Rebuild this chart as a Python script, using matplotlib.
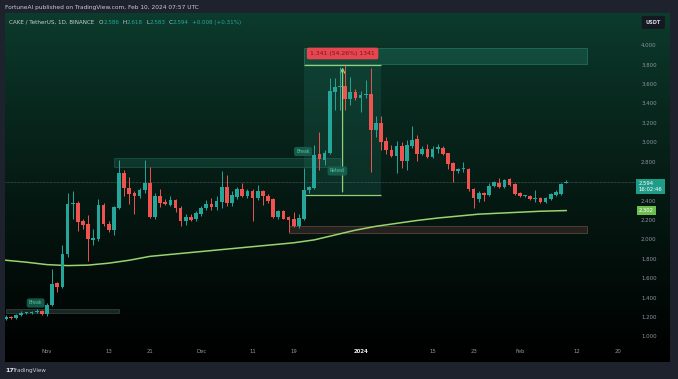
import numpy as np
import pandas as pd
import matplotlib
matplotlib.use("Agg")
from matplotlib import pyplot as plt, dates as mdates, transforms
from matplotlib.patches import Rectangle
from matplotlib.text import Annotation

dates = pd.date_range("2023-10-24", "2024-02-10", freq="D")

opens = [1.19, 1.21, 1.20, 1.23, 1.25, 1.25, 1.26, 1.27,
         1.24, 1.33, 1.56, 1.51, 1.85, 2.37, 2.38, 2.19, 2.16, 2.00,
         2.01, 2.36, 2.16, 2.10, 2.33, 2.69, 2.53, 2.48, 2.45, 2.51,
         2.59, 2.24, 2.45, 2.39, 2.36, 2.41, 2.33, 2.19, 2.24, 2.21,
         2.27, 2.33, 2.37, 2.34, 2.39, 2.54, 2.38, 2.44, 2.52, 2.45,
         2.50, 2.43, 2.50, 2.45, 2.42, 2.24, 2.30, 2.24, 2.22, 2.14,
         2.22, 2.51, 2.53, 2.88, 2.82, 2.90, 3.52, 3.57, 3.58, 3.45,
         3.52,
         3.46, 3.49, 3.50, 3.13, 3.20, 3.02, 2.93, 2.86, 2.97, 2.81,
         2.97, 3.04, 2.88, 2.94, 2.85, 2.94, 2.95, 2.89, 2.79, 2.71,
         2.73, 2.73, 2.52, 2.42, 2.48, 2.46, 2.55, 2.59, 2.54, 2.63,
         2.58,
         2.48, 2.45, 2.45, 2.42, 2.43, 2.39, 2.42, 2.46, 2.47, 2.586]
highs = [1.23, 1.22, 1.24, 1.27, 1.26, 1.27, 1.29, 1.28,
         1.35, 1.70, 1.57, 1.95, 2.48, 2.50, 2.40, 2.22, 2.26, 2.11,
         2.42, 2.38, 2.19, 2.35, 2.82, 2.72, 2.65, 2.50, 2.53, 2.82,
         2.75, 2.48, 2.52, 2.42, 2.45, 2.42, 2.35, 2.27, 2.27, 2.30,
         2.35, 2.41, 2.43, 2.45, 2.71, 2.67, 2.50, 2.54, 2.59, 2.52,
         2.52, 2.57, 2.51, 2.47, 2.43, 2.31, 2.31, 2.25, 2.29, 2.27,
         2.74, 2.56, 2.98, 3.11, 2.93, 3.67, 3.67, 3.78, 3.806, 3.68,
         3.55,
         3.53, 3.65, 3.77, 3.28, 3.28, 3.06, 2.98, 3.02, 3.01, 3.03,
         3.17, 3.08, 2.97, 2.99, 2.97, 2.99, 2.97, 2.90, 2.80, 2.74,
         2.80, 2.74, 2.53, 2.50, 2.49, 2.59, 2.61, 2.64, 2.63, 2.64,
         2.59,
         2.49, 2.46, 2.46, 2.51, 2.44, 2.44, 2.48, 2.51, 2.59, 2.618]
lows = [1.17, 1.19, 1.19, 1.22, 1.24, 1.24, 1.25, 1.23,
        1.22, 1.32, 1.46, 1.50, 1.82, 2.21, 2.09, 2.11, 1.78, 1.95,
        1.99, 2.14, 2.08, 2.05, 2.32, 2.45, 2.37, 2.27, 2.43, 2.48,
        2.23, 2.22, 2.34, 2.36, 2.35, 2.29, 2.14, 2.15, 2.19, 2.19,
        2.25, 2.31, 2.31, 2.31, 2.33, 2.35, 2.35, 2.42, 2.44, 2.43,
        2.19, 2.41, 2.36, 2.38, 2.23, 2.22, 2.21, 2.08, 2.13, 2.12,
        2.20, 2.48, 2.52, 2.72, 2.77, 2.88, 3.34, 3.34, 3.34, 3.39,
        3.44,
        3.32, 3.46, 2.70, 3.06, 2.93, 2.88, 2.85, 2.69, 2.74, 2.72,
        2.95, 2.81, 2.87, 2.84, 2.84, 2.90, 2.87, 2.73, 2.60, 2.69,
        2.70, 2.50, 2.33, 2.39, 2.40, 2.45, 2.54, 2.53, 2.53, 2.56,
        2.46,
        2.44, 2.44, 2.41, 2.39, 2.38, 2.38, 2.41, 2.45, 2.46, 2.583]
closes = [1.21, 1.20, 1.23, 1.25, 1.255, 1.26, 1.27, 1.24,
          1.33, 1.55, 1.51, 1.85, 2.37, 2.38, 2.18, 2.15, 2.01, 2.02,
          2.36, 2.16, 2.10, 2.34, 2.69, 2.53, 2.47, 2.45, 2.51, 2.59,
          2.24, 2.45, 2.38, 2.37, 2.41, 2.33, 2.19, 2.24, 2.20, 2.28,
          2.33, 2.37, 2.34, 2.40, 2.54, 2.38, 2.46, 2.52, 2.45, 2.50,
          2.43, 2.50, 2.45, 2.40, 2.24, 2.30, 2.22, 2.20, 2.14, 2.23,
          2.51, 2.54, 2.87, 2.83, 2.90, 3.53, 3.57, 3.58, 3.45, 3.52,
          3.46,
          3.49, 3.50, 3.13, 3.20, 3.01, 2.93, 2.86, 2.97, 2.81, 2.98,
          3.03, 2.88, 2.94, 2.85, 2.94, 2.96, 2.88, 2.78, 2.71, 2.73,
          2.73, 2.52, 2.43, 2.48, 2.46, 2.56, 2.60, 2.54, 2.62, 2.57,
          2.47,
          2.45, 2.45, 2.42, 2.42, 2.39, 2.43, 2.47, 2.49, 2.58, 2.594]

ma_dates = ["2023-10-24", "2023-10-28", "2023-11-01", "2023-11-05", "2023-11-09",
            "2023-11-13", "2023-11-17", "2023-11-21", "2023-11-25", "2023-12-01",
            "2023-12-07", "2023-12-13", "2023-12-19", "2023-12-23", "2023-12-27",
            "2023-12-31", "2024-01-04", "2024-01-08", "2024-01-12", "2024-01-16",
            "2024-01-20", "2024-01-24", "2024-01-28", "2024-02-01", "2024-02-05",
            "2024-02-10"]
ma_values = [1.79, 1.77, 1.745, 1.735, 1.74, 1.76, 1.79, 1.83, 1.85, 1.88,
             1.91, 1.94, 1.97, 2.00, 2.05, 2.10, 2.14, 2.17, 2.20, 2.225,
             2.245, 2.265, 2.275, 2.285, 2.295, 2.302]

price_ticks = [4.0, 3.8, 3.6, 3.4, 3.2, 3.0, 2.8, 2.4, 2.2, 2.0, 1.8, 1.6, 1.4, 1.2, 1.0]
tick_dates = ["2023-11-01", "2023-11-13", "2023-11-21", "2023-12-01", "2023-12-11",
              "2023-12-19", "2024-01-01", "2024-01-15", "2024-01-23", "2024-02-01",
              "2024-02-12", "2024-02-20"]
tick_labels = ["Nov", "13", "21", "Dec", "11", "19", "2024", "15", "23", "Feb", "12", "20"]

# zones: (start, end, low, high)
zone_supply = ("2023-12-21", "2024-02-14", 3.81, 3.98)
zone_break_hi = ("2023-11-14", "2023-12-28", 2.748, 2.843)
zone_break_lo = ("2023-10-24", "2023-11-15", 1.242, 1.283)
zone_demand = ("2023-12-18", "2024-02-14", 2.071, 2.143)
measure = ("2023-12-21", "2024-01-05", 2.465, 3.806)

W, H = 678, 379
up, down = "#26a69a", "#ef5350"
fig = plt.figure(figsize=(W / 100, H / 100), dpi=100, facecolor="#1e222d")
rect = [5 / W, 17 / H, 665 / W, 349 / H]

bg = fig.add_axes(rect, zorder=0)
t = np.linspace(0, 1, 256) ** 0.85
top = np.array([12, 60, 45]) / 255
grad = (top[None, :] * (1 - t[:, None]))[:, None, :]
bg.imshow(grad, aspect="auto", extent=[0, 1, 0, 1])
bg.axis("off")

ax = fig.add_axes(rect, zorder=1)
ax.patch.set_alpha(0)
ax.axis("off")
x = mdates.date2num(dates)
x0 = mdates.date2num(pd.Timestamp("2023-11-01"))
ax.set_xlim(x0 - 8.17, x0 + 121.2)
ax.set_ylim(0.742, 4.337)
dn = lambda s: mdates.date2num(pd.Timestamp(s))


def zone(z, fc, ec, alpha):
    a, b, lo, hi = z
    ax.add_patch(Rectangle((dn(a), lo), dn(b) - dn(a), hi - lo, facecolor=fc,
                           edgecolor=ec, alpha=alpha, lw=0.6, zorder=1))


zone(zone_supply, "#1f6b57", "#3aa58a", 0.45)
zone(zone_break_hi, "#1b5a4a", "#2f8a72", 0.4)
zone(zone_break_lo, "#2b3b38", "#3d5a54", 0.6)
zone(zone_demand, "#2a2522", "#6a4a40", 0.85)

# measure box
ma0, ma1, mlo, mhi = measure
ax.add_patch(Rectangle((dn(ma0), mlo), dn(ma1) - dn(ma0), mhi - mlo,
                       facecolor="#2a8c78", alpha=0.18, lw=0, zorder=1))
ax.hlines([mlo, mhi], dn(ma0), dn(ma1), colors="#8fd07a", lw=0.9, zorder=4)
xm = (dn(ma0) + dn(ma1)) / 2
ax.annotate("", xy=(xm, mhi), xytext=(xm, mlo),
            arrowprops=dict(arrowstyle="->", color="#8fd07a", lw=0.9, mutation_scale=8), zorder=4)
ax.text(xm, 3.92, f"{mhi - mlo:.3f} (54.26%) 1341", color="#7a1620", fontsize=4.4,
        ha="center", va="center", zorder=6,
        bbox=dict(boxstyle="round,pad=0.55,rounding_size=0.3", fc="#e5464f", ec="none"))

# last price line
ax.axhline(closes[-1], color="#4c6e66", lw=0.5, ls=(0, (1, 1)), xmax=0.95, zorder=2)

# moving average
ax.plot(mdates.date2num(pd.to_datetime(ma_dates)), ma_values, color="#9ad36f", lw=1.1, zorder=3)

# candles
o, h, l, c = map(np.array, (opens, highs, lows, closes))
cols = np.where(c >= o, up, down)
ax.vlines(x, l, h, colors=cols, lw=0.7, zorder=4)
body = np.maximum(np.abs(c - o), 0.008)
ax.bar(x, body, bottom=np.minimum(o, c), width=0.72, color=cols, zorder=5)

lab = dict(fontsize=3.4, color="#5fc2a6", ha="center", va="center", zorder=6)
box = dict(boxstyle="round,pad=0.45", fc="#17604f", ec="none", alpha=0.9)
ax.text(dn("2023-12-20") + 0.8, 2.91, "Break", bbox=box, **lab)
ax.text(dn("2023-12-27") + 0.5, 2.71, "Retest", bbox=box, **lab)
ax.text(dn("2023-10-29") + 0.8, 1.35, "Break", bbox=box, **lab)

# price scale
ty = transforms.blended_transform_factory(ax.transAxes, ax.transData)
for p in price_ticks:
    ax.text(0.9565, p, f"{p:.3f}", transform=ty, color="#9095a0", fontsize=3.9, va="center")
ax.text(0.953, closes[-1] - 0.045, f"{closes[-1]:.3f}\n16:02:46", transform=ty, color="white",
        fontsize=3.8, va="center", linespacing=1.1, zorder=7,
        bbox=dict(boxstyle="square,pad=0.5", fc="#1f9c88", ec="none"))
ax.text(0.953, ma_values[-1], f"{ma_values[-1]:.3f}", transform=ty, color="white",
        fontsize=3.8, va="center", zorder=7,
        bbox=dict(boxstyle="square,pad=0.4", fc="#6dbe4f", ec="none"))

# time scale
tx = transforms.blended_transform_factory(ax.transData, ax.transAxes)
for d, s in zip(tick_dates, tick_labels):
    ax.text(dn(d), 0.029, s, transform=tx, color="#e8e8ea" if s == "2024" else "#9095a0",
            fontsize=3.9, ha="center", va="center",
            fontweight="bold" if s == "2024" else "normal")

ax.text(0.975, 0.973, "USDT", transform=ax.transAxes, color="#d8dade", fontsize=3.6,
        ha="center", va="center", fontweight="bold",
        bbox=dict(boxstyle="round,pad=0.8,rounding_size=0.3", fc="#141820", ec="none"))

# legend line
parts = [("O", "#c9ccd2", 3.2), ("2.586", up, 0), ("H", "#c9ccd2", 2.5), ("2.618", up, 0),
         ("L", "#c9ccd2", 2.5), ("2.583", up, 0), ("C", "#c9ccd2", 2.5),
         ("2.594", up, 0), ("+0.008 (+0.31%)", up, 2.5)]
prev = fig.text(9.3 / W, 1 - 22.5 / H, "CAKE / TetherUS, 1D, BINANCE", color="#c9ccd2",
                fontsize=4.1, va="center")
for s, col, gap in parts:
    prev = fig.add_artist(Annotation(s, xy=(1, 0.5), xycoords=prev, xytext=(gap, 0),
                                     textcoords="offset points", color=col, fontsize=4.1,
                                     va="center"))

fig.text(5 / W, 1 - 7 / H, "FortuneAI published on TradingView.com, Feb 10, 2024 07:57 UTC",
         color="#c9ccd2", fontsize=4.2, va="center")
fig.text(5 / W, 1 - 370.5 / H, "17", color="#e8e8ea", fontsize=4.6, va="center", fontweight="bold")
fig.text(13 / W, 1 - 370.5 / H, "TradingView", color="#c9ccd2", fontsize=4.1, va="center")

fig.savefig("out.png", dpi=100, facecolor=fig.get_facecolor())
